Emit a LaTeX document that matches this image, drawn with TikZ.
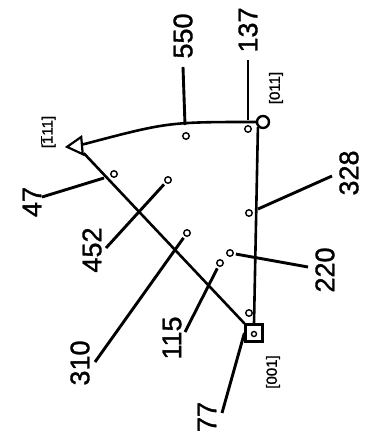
\documentclass[tikz,border=0pt]{standalone}
\usepackage{fontspec}
\setmainfont{Liberation Sans}
\newfontfamily\numfont[FakeBold=1.2]{Liberation Sans}
\usetikzlibrary{shapes.geometric}

\begin{document}
\begin{tikzpicture}[
    x=1pt, y=-1pt,
    datapt/.style={circle, draw, line width=1.4pt, minimum size=6.5pt, inner sep=0pt},
    num/.style={rotate=90, font=\numfont\fontsize{27}{30}\selectfont, inner sep=0pt},
    polelbl/.style={rotate=90, font=\numfont\fontsize{15}{16}\selectfont, inner sep=0pt},
    edge/.style={line width=2.6pt},
    leader/.style={line width=2.9pt}
]
\useasboundingbox (0,0) rectangle (364,441);

% poles of the triangle
\node[draw, rectangle, line width=2.2pt, minimum size=17pt, inner sep=0pt] (p001) at (254,333) {};
\node[draw, circle, line width=2.4pt, minimum size=12pt, inner sep=0pt] (p011) at (263,122) {};
\node[draw, regular polygon, regular polygon sides=3, rotate=95, line width=2.2pt, minimum size=20pt, inner sep=0pt] (p111) at (77,146) {};

\draw[edge] (p001.north) -- (p011.south west);
\draw[edge] (p001.north west) -- (p111);
\draw[edge] (p111) .. controls (168,122) .. (p011.west);

% data points
\node[datapt] (d550) at (186,136) {};
\node[datapt] (d137) at (248,129) {};
\node[datapt] (d47) at (114,174) {};
\node[datapt] (d452) at (168,180) {};
\node[datapt] (d310) at (187,233) {};
\node[datapt] (d115) at (220,263) {};
\node[datapt] (d220) at (230,253) {};
\node[datapt] (d328) at (249,213) {};
\node[datapt] (d77) at (249,313) {};
\node[datapt, minimum size=5pt] (d0) at (254,334) {};

% leader ends
\coordinate (s550) at (185,125);
\coordinate (e550) at (183,67);
\coordinate (s137) at (248,120);
\coordinate (e137) at (248,60);
\coordinate (s47) at (104,178);
\coordinate (e47) at (42,197);
\coordinate (e452) at (106,248);
\coordinate (e310) at (95,362);
\coordinate (e115) at (185,332);
\coordinate (e220) at (308,267);
\coordinate (s328) at (258,209);
\coordinate (e328) at (332,176);
\coordinate (e77) at (222,413);

\draw[leader] (s550) -- (e550);
\draw[leader] (s137) -- (e137);
\draw[leader] (s47) -- (e47);
\draw[leader, shorten <=2pt] (d452) -- (e452);
\draw[leader, shorten <=2pt] (d310) -- (e310);
\draw[leader, shorten <=2pt] (d115) -- (e115);
\draw[leader, shorten <=2pt] (d220) -- (e220);
\draw[leader] (s328) -- (e328);
\draw[leader] (p001.west) -- (e77);

% labels
\node[num] (l550) at (183,36) {550};
\node[num] (l137) at (248,30) {137};
\node[num] (l47) at (32,202) {47};
\node[num] (l452) at (92,250) {452};
\node[num] (l310) at (80,363) {310};
\node[num] (l115) at (172,338) {115};
\node[num] (l220) at (325,270) {220};
\node[num] (l328) at (349,173) {328};
\node[num] (l77) at (207,417) {77};

\node[polelbl] (l001) at (273,372) {[001]};
\node[polelbl] (l011) at (276,88) {[011]};
\node[polelbl] (l111) at (48,132) {[$\overline{\hbox{1}}$11]};
\end{tikzpicture}
\end{document}
